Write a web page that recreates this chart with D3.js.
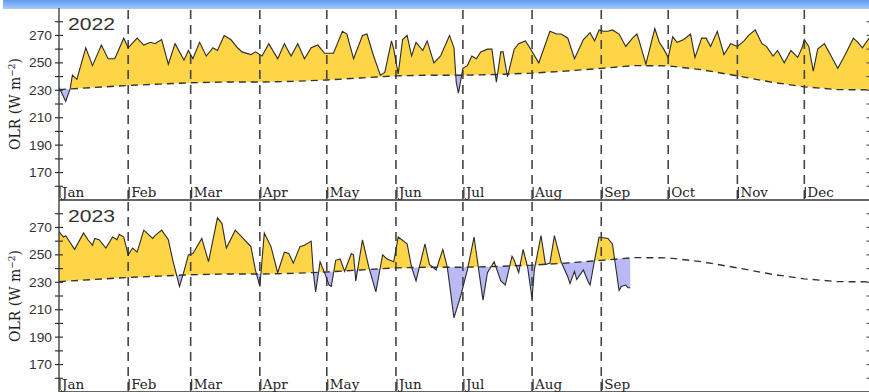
<!DOCTYPE html>
<html><head><meta charset="utf-8">
<script src="https://cdn.jsdelivr.net/npm/d3@7"></script>
<style>html,body{margin:0;padding:0;background:#fff;overflow:hidden}</style>
</head><body>
<svg id="c" width="869" height="392"></svg>
<script>
// ---- data ----
const monthNames = ["Jan","Feb","Mar","Apr","May","Jun","Jul","Aug","Sep","Oct","Nov","Dec"];
const monthStart = [0,31,59,90,120,151,181,212,243,273,304,334];
const yTickLabels = [170,190,210,230,250,270];
const yMinorTicks = [160,170,180,190,200,210,220,230,240,250,260,270,280];
const years = ["2022","2023"];

const climDays = [0,15,31,45,59,75,90,105,120,135,151,166,181,196,212,227,243,258,273,288,304,319,334,349,365];
const climVals = [230.5,232,233.5,234.5,235.5,236,236,236.5,237.5,239,240.5,241,241,241.5,242.5,244,246,248,247.8,245,240.5,236,232.5,230.5,230.3];

const days2022 = [0,3,5,6,8,12,15,19,22,25,29,31,35,38,41,43,46,49,52,56,58,60,63,66,69,71,74,77,80,82,86,88,91,94,98,101,104,107,110,113,116,119,123,127,129,132,136,138,141,144,146,149,150,152,154,156,158,160,163,165,168,171,175,177,178,179,181,183,185,187,189,192,194,196,198,199,201,204,206,209,211,215,220,223,225,228,231,235,238,240,242,244,246,248,251,254,257,259,260,263,267,269,271,273,275,277,280,283,285,288,290,292,295,298,301,304,307,309,312,315,317,320,322,325,328,331,333,334,336,338,340,343,346,349,352,356,358,360,363,365];
const olr2022 = [232,222,231,241,238,261,248,263,253,253,268,261,268,263,265,264,267,249,264,252,259,253,265,255,261,259,270,267,261,258,256,258,255,264,253,264,255,264,253,261,263,257,257,273,271,253,270,271,255,241,243,266,260,242,267,270,255,265,259,266,250,255,270,261,236,228,246,248,255,253,258,260,260,236,258,258,240,260,264,266,261,250,273,271,271,268,253,267,272,266,274,273,273,274,271,262,268,271,266,249,275,265,260,254,269,265,267,271,254,268,268,262,273,256,264,262,266,270,274,264,262,255,259,250,259,254,261,267,262,244,260,264,255,246,255,268,265,261,268,266];

const days2023 = [0,2,3,7,11,13,15,16,18,21,24,26,27,29,31,33,35,38,42,43,46,49,51,54,56,58,60,64,67,71,73,75,79,82,86,88,90,92,95,98,101,103,105,108,110,113,114,115,117,119,121,122,124,126,128,131,132,133,136,139,142,145,147,150,152,156,158,160,164,166,169,172,174,177,180,183,186,188,190,192,195,198,200,203,204,206,208,210,212,213,216,218,220,222,225,228,229,231,232,235,237,238,240,242,246,248,251,252,254,255,256];
const olr2023 = [267,263,264,254,266,261,257,262,261,255,263,261,265,263,250,255,252,268,262,264,268,261,246,227,238,250,251,262,245,277,273,255,268,263,256,239,227,266,256,237,252,251,244,256,257,260,237,223,245,237,228,227,246,247,238,251,250,231,261,240,223,250,247,245,263,258,241,231,258,243,239,254,241,204,220,239,263,240,217,237,245,231,228,249,246,237,254,241,218,239,264,243,244,264,245,234,229,238,232,239,231,228,246,263,262,258,224,227,228,226,226];

// ---- layout ----
const svg = d3.select("#c");
const X0 = 59, XR = 869;
const x = d3.scaleLinear().domain([0,365]).range([X0, X0 + 365*2.2315]);
const panels = [
  {top: 8, bottom: 200, year: years[0], days: days2022, vals: olr2022, months: 12},
  {top: 200, bottom: 392, year: years[1], days: days2023, vals: olr2023, months: 9}
];
const clim = climDays.map((d,i)=>({d, v: climVals[i]}));

// title bar
const defs = svg.append("defs");
const g0 = defs.append("linearGradient").attr("id","bar").attr("x1",0).attr("x2",0).attr("y1",0).attr("y2",1);
g0.append("stop").attr("offset","0%").attr("stop-color","#5d9bf2");
g0.append("stop").attr("offset","100%").attr("stop-color","#a9cbfa");
svg.append("rect").attr("x",3).attr("y",0).attr("width",866).attr("height",9).attr("fill","url(#bar)");

panels.forEach((p, pi) => {
  const y = d3.scaleLinear().domain([150,290]).range([p.bottom, p.top]);
  const data = p.days.map((d,i)=>({d, v: p.vals[i]}));
  const g = svg.append("g");

  // clip paths
  defs.append("clipPath").attr("id","plot"+pi).append("rect")
    .attr("x",X0).attr("y",p.top).attr("width",XR-X0).attr("height",p.bottom-p.top);
  defs.append("clipPath").attr("id","above"+pi).append("path")
    .attr("d", d3.area().x(d=>x(d.d)).y0(p.top).y1(d=>y(d.v))(clim));
  defs.append("clipPath").attr("id","below"+pi).append("path")
    .attr("d", d3.area().x(d=>x(d.d)).y0(p.bottom).y1(d=>y(d.v))(clim));

  const pg = g.append("g").attr("clip-path","url(#plot"+pi+")");
  pg.append("g").attr("clip-path","url(#above"+pi+")").append("path")
    .attr("d", d3.area().x(d=>x(d.d)).y0(p.bottom).y1(d=>y(d.v))(data))
    .attr("fill","#fdd546");
  pg.append("g").attr("clip-path","url(#below"+pi+")").append("path")
    .attr("d", d3.area().x(d=>x(d.d)).y0(p.top).y1(d=>y(d.v))(data))
    .attr("fill","#b9b9f6");

  // month dashed lines
  for (let m = 1; m < p.months; m++) {
    pg.append("line").attr("x1",x(monthStart[m])).attr("x2",x(monthStart[m]))
      .attr("y1",p.top+2).attr("y2",p.bottom)
      .attr("stroke","#444").attr("stroke-width",1.6).attr("stroke-dasharray","9,6");
  }
  // climatology
  pg.append("path").attr("d", d3.line().x(d=>x(d.d)).y(d=>y(d.v))(clim))
    .attr("fill","none").attr("stroke","#333").attr("stroke-width",1.4).attr("stroke-dasharray","7,5");
  // OLR
  pg.append("path").attr("d", d3.line().x(d=>x(d.d)).y(d=>y(d.v))(data))
    .attr("fill","none").attr("stroke","#2b2b2b").attr("stroke-width",1.1);

  // month labels
  for (let m = 0; m < p.months; m++) {
    const mx = x(monthStart[m]);
    g.append("line").attr("x1",mx+1).attr("x2",mx+1).attr("y1",p.bottom-13).attr("y2",p.bottom-2)
      .attr("stroke","#333").attr("stroke-width",1.2);
    g.append("text").attr("x",mx+3).attr("y",p.bottom-3.5)
      .attr("font-family","DejaVu Serif").attr("font-size",13.5).attr("fill","#222")
      .text(monthNames[m]);
  }

  // axes lines
  g.append("line").attr("x1",X0).attr("x2",X0).attr("y1",p.top).attr("y2",p.bottom).attr("stroke","#333").attr("stroke-width",1.3);
  g.append("line").attr("x1",X0).attr("x2",XR).attr("y1",p.bottom).attr("y2",p.bottom).attr("stroke","#333").attr("stroke-width",1.3);
  // ticks
  yMinorTicks.forEach(t => {
    g.append("line").attr("x1",X0-4).attr("x2",X0+4).attr("y1",y(t)).attr("y2",y(t)).attr("stroke","#333").attr("stroke-width",1.2);
    g.append("line").attr("x1",XR-2.5).attr("x2",XR).attr("y1",y(t)).attr("y2",y(t)).attr("stroke","#555").attr("stroke-width",1.2);
  });
  yTickLabels.forEach(t => {
    g.append("text").attr("x",52).attr("y",y(t)+4.5).attr("text-anchor","end")
      .attr("font-family","Liberation Sans").attr("font-size",13).attr("fill","#333")
      .attr("textLength",23).attr("lengthAdjust","spacingAndGlyphs").text(t);
  });
  // year
  g.append("text").attr("x",68).attr("y",p.top+22).attr("font-family","Liberation Sans").attr("font-size",16)
    .attr("fill","#333").attr("textLength",47).attr("lengthAdjust","spacingAndGlyphs").text(p.year);
  // y title
  const yt = g.append("text").attr("transform",`translate(20,${p.top+96}) rotate(-90)`)
    .attr("text-anchor","middle").attr("font-family","DejaVu Serif").attr("font-size",14).attr("fill","#222");
  yt.append("tspan").text("OLR (W m");
  yt.append("tspan").attr("baseline-shift","super").attr("font-size",9).text("−2");
  yt.append("tspan").text(")");
});
</script>
</body></html>
